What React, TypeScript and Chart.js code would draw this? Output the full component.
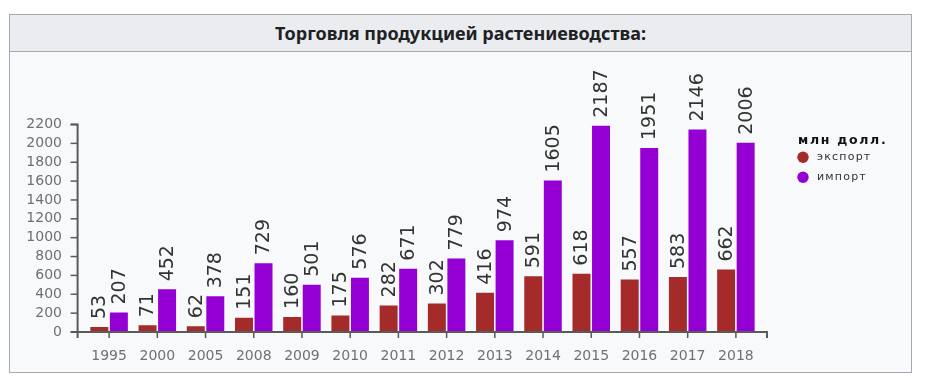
import React, { useEffect, useRef } from "react";
import { Chart, registerables } from "chart.js";

Chart.register(...registerables);

const TITLE = "Торговля продукцией растениеводства:";
const LEGEND_TITLE = "млн долл.";
const years = ["1995", "2000", "2005", "2008", "2009", "2010", "2011", "2012", "2013", "2014", "2015", "2016", "2017", "2018"];
const exportValues = [53, 71, 62, 151, 160, 175, 282, 302, 416, 591, 618, 557, 583, 662];
const importValues = [207, 452, 378, 729, 501, 576, 671, 779, 974, 1605, 2187, 1951, 2146, 2006];
const seriesLabels = ["экспорт", "импорт"];
const seriesColors = ["#a52a2a", "#9400d3"];
const yMax = 2200;
const yStep = 200;

const FONT = "'DejaVu Sans', Verdana, sans-serif";

const axesPlugin = {
  id: "customAxes",
  afterDatasetsDraw(chart: any) {
    const ctx = chart.ctx;
    const area = chart.chartArea;
    const xs = chart.scales.x;
    const ys = chart.scales.y;
    const axisX = area.left - 7.4;
    const y0 = ys.getPixelForValue(0);
    const yTop = ys.getPixelForValue(yMax);
    ctx.save();
    ctx.strokeStyle = "#5a5a5a";
    ctx.lineWidth = 2;
    ctx.beginPath();
    ctx.moveTo(axisX - 7, yTop);
    ctx.lineTo(axisX, yTop);
    ctx.lineTo(axisX, y0 + 6);
    ctx.stroke();
    ctx.beginPath();
    ctx.moveTo(axisX - 7, y0);
    ctx.lineTo(area.right + 7, y0);
    ctx.lineTo(area.right + 7, y0 + 6);
    ctx.stroke();
    ctx.lineWidth = 1.5;
    ys.ticks.forEach((t: any) => {
      const py = ys.getPixelForValue(t.value);
      ctx.beginPath();
      ctx.moveTo(axisX - 7, py);
      ctx.lineTo(axisX, py);
      ctx.stroke();
    });
    years.forEach((_, i) => {
      const px = xs.getPixelForValue(i);
      ctx.beginPath();
      ctx.moveTo(px, y0);
      ctx.lineTo(px, y0 + 6);
      ctx.stroke();
    });
    ctx.restore();
  },
};

const labelsPlugin = {
  id: "valueLabels",
  afterDatasetsDraw(chart: any) {
    const ctx = chart.ctx;
    ctx.save();
    ctx.fillStyle = "#333";
    ctx.font = `19px ${FONT}`;
    ctx.textAlign = "left";
    ctx.textBaseline = "middle";
    chart.data.datasets.forEach((ds: any, di: number) => {
      const meta = chart.getDatasetMeta(di);
      meta.data.forEach((el: any, i: number) => {
        ctx.save();
        ctx.translate(el.x + 1, el.y - 8);
        ctx.rotate(-Math.PI / 2);
        ctx.fillText(String(ds.data[i]), 0, 0);
        ctx.restore();
      });
    });
    ctx.restore();
  },
};

const legendPlugin = {
  id: "customLegend",
  afterDraw(chart: any) {
    const ctx = chart.ctx;
    const lx = 787;
    ctx.save();
    ctx.fillStyle = "#111";
    ctx.font = `bold 12.5px ${FONT}`;
    ctx.textAlign = "left";
    ctx.textBaseline = "middle";
    (ctx as any).letterSpacing = "1.7px";
    ctx.fillText(LEGEND_TITLE, lx + 1, 88.5);
    chart.data.datasets.forEach((ds: any, i: number) => {
      const cy = 105.3 + i * 20;
      ctx.beginPath();
      ctx.fillStyle = ds.backgroundColor;
      ctx.arc(lx + 6, cy, 5.7, 0, Math.PI * 2);
      ctx.fill();
      ctx.fillStyle = "#333";
      ctx.font = `11px ${FONT}`;
      (ctx as any).letterSpacing = "1.2px";
      ctx.fillText(ds.label, lx + 20, cy);
    });
    ctx.restore();
  },
};

function ChartView() {
  const ref = useRef<HTMLCanvasElement>(null);
  useEffect(() => {
    if (!ref.current) return;
    const chart = new Chart(ref.current, {
      type: "bar",
      data: {
        labels: years,
        datasets: [
          { label: seriesLabels[0], data: exportValues, backgroundColor: seriesColors[0], categoryPercentage: 0.81, barPercentage: 0.92 },
          { label: seriesLabels[1], data: importValues, backgroundColor: seriesColors[1], categoryPercentage: 0.81, barPercentage: 0.92 },
        ],
      },
      options: {
        responsive: false,
        animation: false,
        devicePixelRatio: 1,
        layout: { padding: { top: 72.5, right: 151, bottom: 0, left: 0 } },
        plugins: { legend: { display: false }, tooltip: { enabled: false }, title: { display: false } },
        scales: {
          x: {
            type: "category",
            offset: true,
            grid: { display: false },
            border: { display: false },
            ticks: { color: "#707070", font: { family: FONT, size: 14 }, padding: 8, maxRotation: 0, autoSkip: false },
            afterFit: (s: any) => { s.height = 40; },
          },
          y: {
            min: 0,
            max: yMax,
            grid: { display: false },
            border: { display: false },
            ticks: {
              stepSize: yStep,
              autoSkip: false,
              color: "#707070",
              font: { family: FONT, size: 14 },
              padding: 15,
              callback: (v: any) => String(v),
            },
            afterFit: (s: any) => { s.width = 75; },
          },
        },
      },
      plugins: [axesPlugin, labelsPlugin, legendPlugin],
    });
    return () => chart.destroy();
  }, []);
  return <canvas ref={ref} width={901} height={320} style={{ display: "block", width: 901, height: 320 }} />;
}

export default function App() {
  return (
    <div style={{ margin: "6px 0 0 1px", width: 903, boxSizing: "border-box", border: "1px solid #a2a9b1", background: "#f8f9fa" }}>
      <div
        style={{
          height: 36,
          lineHeight: "36px",
          background: "#eaecf0",
          borderBottom: "1px solid #a2a9b1",
          textAlign: "center",
          fontFamily: "'Noto Sans', 'Liberation Sans', Arial, sans-serif",
          fontWeight: "bold",
          fontSize: 18,
          color: "#202122",
        }}
      >
        {TITLE}
      </div>
      <ChartView />
    </div>
  );
}
